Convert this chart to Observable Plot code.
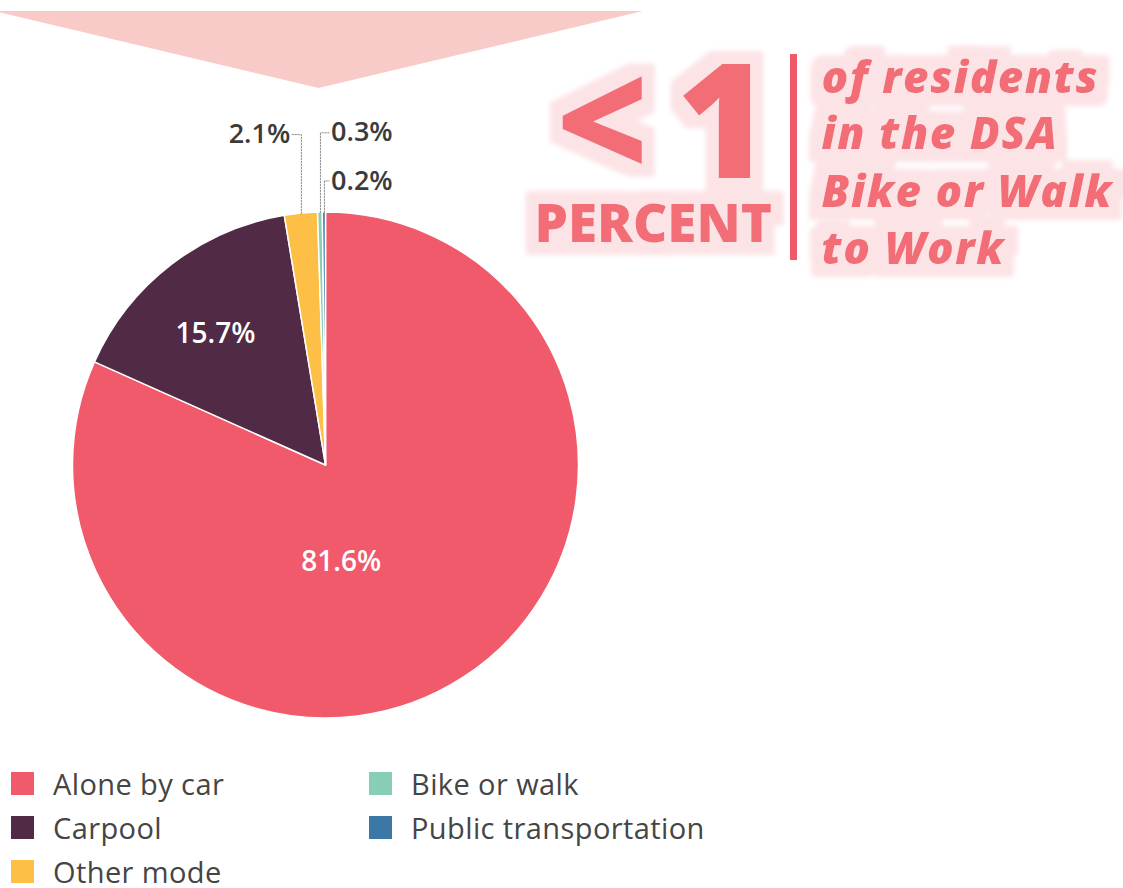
<!DOCTYPE html>
<html>
<head>
<meta charset="utf-8">
<script src="https://cdn.jsdelivr.net/npm/d3@7"></script>
<script src="https://cdn.jsdelivr.net/npm/@observablehq/plot@0.6"></script>
<style>
  html, body { margin: 0; padding: 0; background: #fff; }
  #wrap { position: relative; width: 1123px; height: 888px; overflow: hidden; font-family: "Open Sans", sans-serif; }
  #tri { position: absolute; left: -6px; top: 11px; width: 649px; height: 77px; background: #f9cbc8;
         clip-path: polygon(0 0, 100% 0, 50% 100%); z-index: 2; }
  #bar { position: absolute; left: 790px; top: 54px; width: 7px; height: 206px; background: #ef5a6a; z-index: 2; }
  #legend { display: grid; grid-auto-flow: column; grid-template-rows: repeat(3, 44px);
            grid-template-columns: 358px 360px; margin-left: 11px; padding-top: 1px; }
  .item { display: flex; align-items: center; font-size: 29px; line-height: 1; color: #454545; letter-spacing: 0.4px; }
  .sw { width: 23px; height: 23px; margin-right: 19px; flex: none; }
</style>
</head>
<body>
<div id="wrap"><div id="tri"></div><div id="bar"></div></div>
<script>
// ---- data ----
const categories = ["Alone by car", "Carpool", "Other mode", "Bike or walk", "Public transportation"];
const shares = [81.6, 15.7, 2.1, 0.3, 0.2];
const shareLabels = ["81.6%", "15.7%", "2.1%", "0.3%", "0.2%"];
const colors = ["#f05a6b", "#512a45", "#fdbf45", "#88cdb5", "#3b78a6"];
const calloutBig = ["<", "1"];
const calloutUnit = ["PERCENT"];
const calloutLines = ["of residents", "in the DSA", "Bike or Walk", "to Work"];

// ---- layout ----
const data = categories.map((c, i) => ({category: c, share: shares[i], label: shareLabels[i]}));
const arcs = d3.pie().sort(null).value(d => d.share)(data);
const deg = Math.PI / 180;
const mid = a => (a.startAngle + a.endAngle) / 2;

const insideLayout = {"Alone by car": {angle: 171, r: 0.385}, "Carpool": {angle: 320, r: 0.68}};
const outsideLayout = {
  "Other mode": {side: "left", lift: 1.308, hook: -0.036},
  "Bike or walk": {side: "right", lift: 1.315, hookTo: 0.012},
  "Public transportation": {side: "right", lift: 1.125, hookTo: 0.012}
};

const inside = arcs.filter(a => insideLayout[a.data.category]).map(a => {
  const L = insideLayout[a.data.category];
  const ang = L.angle != null ? L.angle * deg : mid(a);
  return {label: a.data.label, x: Math.sin(ang) * L.r, y: Math.cos(ang) * L.r};
});

const outside = arcs.filter(a => outsideLayout[a.data.category]).map(a => {
  const L = outsideLayout[a.data.category];
  const m = mid(a);
  const vx = Math.sin(m), vy = Math.cos(m);
  const hx = L.side === "left" ? vx + L.hook : L.hookTo;
  return {category: a.data.category, label: a.data.label, side: L.side,
          path: [[vx, vy], [vx, L.lift], [hx, L.lift]],
          tx: hx + (L.side === "left" ? -0.008 : 0.008), ty: L.lift};
});
const leaderPts = outside.flatMap(o => o.path.map(([x, y]) => ({category: o.category, x, y})));

function pieMark(index, scales) {
  const {x, y} = scales;
  const color = scales.color || d3.scaleOrdinal(categories, colors);
  const r = Math.abs(x(1) - x(0));
  const arc = d3.arc().innerRadius(0).outerRadius(r);
  const g = d3.create("svg:g").attr("transform", `translate(${x(0)},${y(0)})`);
  g.selectAll("path").data(arcs).join("path")
    .attr("d", arc)
    .attr("fill", d => color(d.data.category))
    .attr("stroke", "#fff")
    .attr("stroke-width", 1.5)
    .attr("stroke-linejoin", "round");
  return g.node();
}

const calloutItems = [
  {text: calloutBig[0], dx: 555, dy: 126, size: 160, weight: 800, italic: false},
  {text: calloutBig[1], dx: 676, dy: 126, size: 160, weight: 800, italic: false},
  {text: calloutUnit[0], dx: 534, dy: 225, size: 53, weight: 800, italic: false},
  ...calloutLines.map((t, i) => ({text: t, dx: 821, dy: [78, 134, 192, 249][i], size: 44, weight: 800, italic: true}))
];
const textColor = "#f26d76";
const calloutMark = c => Plot.text([c.text], {
  frameAnchor: "top-left", lineAnchor: "middle", dx: c.dx, dy: c.dy, text: d => d, textAnchor: "start",
  fontSize: c.size, fontWeight: c.weight, fontStyle: c.italic ? "italic" : "normal",
  fontFamily: "Open Sans", fill: textColor, ariaDescription: "callout"
});

const chart = Plot.plot({
  width: 1123,
  height: 760,
  margin: 0,
  style: {background: "transparent", overflow: "visible"},
  x: {domain: [-1, 1], range: [72.5, 578.5], axis: null},
  y: {domain: [-1, 1], range: [718, 212], axis: null},
  color: {domain: categories, range: colors},
  marks: [
    Plot.dot(data, {x: () => 0, y: () => 0, fill: "category", r: 0}),
    pieMark,
    Plot.line(leaderPts, {x: "x", y: "y", z: "category", stroke: "#8c8c8c", strokeWidth: 1, strokeDasharray: "1.5,1.5"}),
    Plot.text(inside, {x: "x", y: "y", text: "label", fill: "#fff", fontSize: 28, fontWeight: 600, fontFamily: "Open Sans"}),
    Plot.text(outside.filter(o => o.side === "left"), {x: "tx", y: "ty", text: "label", textAnchor: "end", fill: "#3b3b3b", fontSize: 27, fontWeight: 600, fontFamily: "Open Sans"}),
    Plot.text(outside.filter(o => o.side === "right"), {x: "tx", y: "ty", text: "label", textAnchor: "start", fill: "#3b3b3b", fontSize: 27, fontWeight: 600, fontFamily: "Open Sans"}),
    ...calloutItems.map(calloutMark)
  ]
});

const wrap = document.getElementById("wrap");
wrap.appendChild(chart);

// light-pink halo around the callout, made with a filter on one group
const svg = d3.select(chart);
const defs = svg.insert("defs", ":first-child");
const f = defs.append("filter").attr("id", "calloutHalo").attr("filterUnits", "userSpaceOnUse")
  .attr("x", 470).attr("y", 10).attr("width", 660).attr("height", 320);
f.append("feMorphology").attr("in", "SourceAlpha").attr("operator", "dilate").attr("radius", 13).attr("result", "d");
f.append("feGaussianBlur").attr("in", "d").attr("stdDeviation", 2.4).attr("result", "b");
f.append("feFlood").attr("flood-color", "#fce3e6").attr("result", "c");
f.append("feComposite").attr("in", "c").attr("in2", "b").attr("operator", "in").attr("result", "h");
const merge = f.append("feMerge");
merge.append("feMergeNode").attr("in", "h");
merge.append("feMergeNode").attr("in", "SourceGraphic");
const calloutGroup = svg.append("g").attr("filter", "url(#calloutHalo)");
svg.selectAll("g[aria-description=callout]").each(function () { calloutGroup.node().appendChild(this); });

// fit the italic lines to the reference width
const lineTexts = svg.selectAll("text").filter(function () { return calloutLines.includes(this.textContent); });
const ref = lineTexts.filter(function () { return this.textContent === "Bike or Walk"; }).node();
if (ref) {
  const w = ref.getComputedTextLength();
  const ls = Math.max(0, (290 - w) / (calloutLines[2].length - 1));
  lineTexts.style("letter-spacing", ls + "px");
}

// legend
const legend = d3.select(wrap).append("div").attr("id", "legend");
const items = legend.selectAll(".item").data(categories).join("div").attr("class", "item");
items.append("span").attr("class", "sw").style("background", (d, i) => colors[i]);
items.append("span").text(d => d);
</script>
</body>
</html>
